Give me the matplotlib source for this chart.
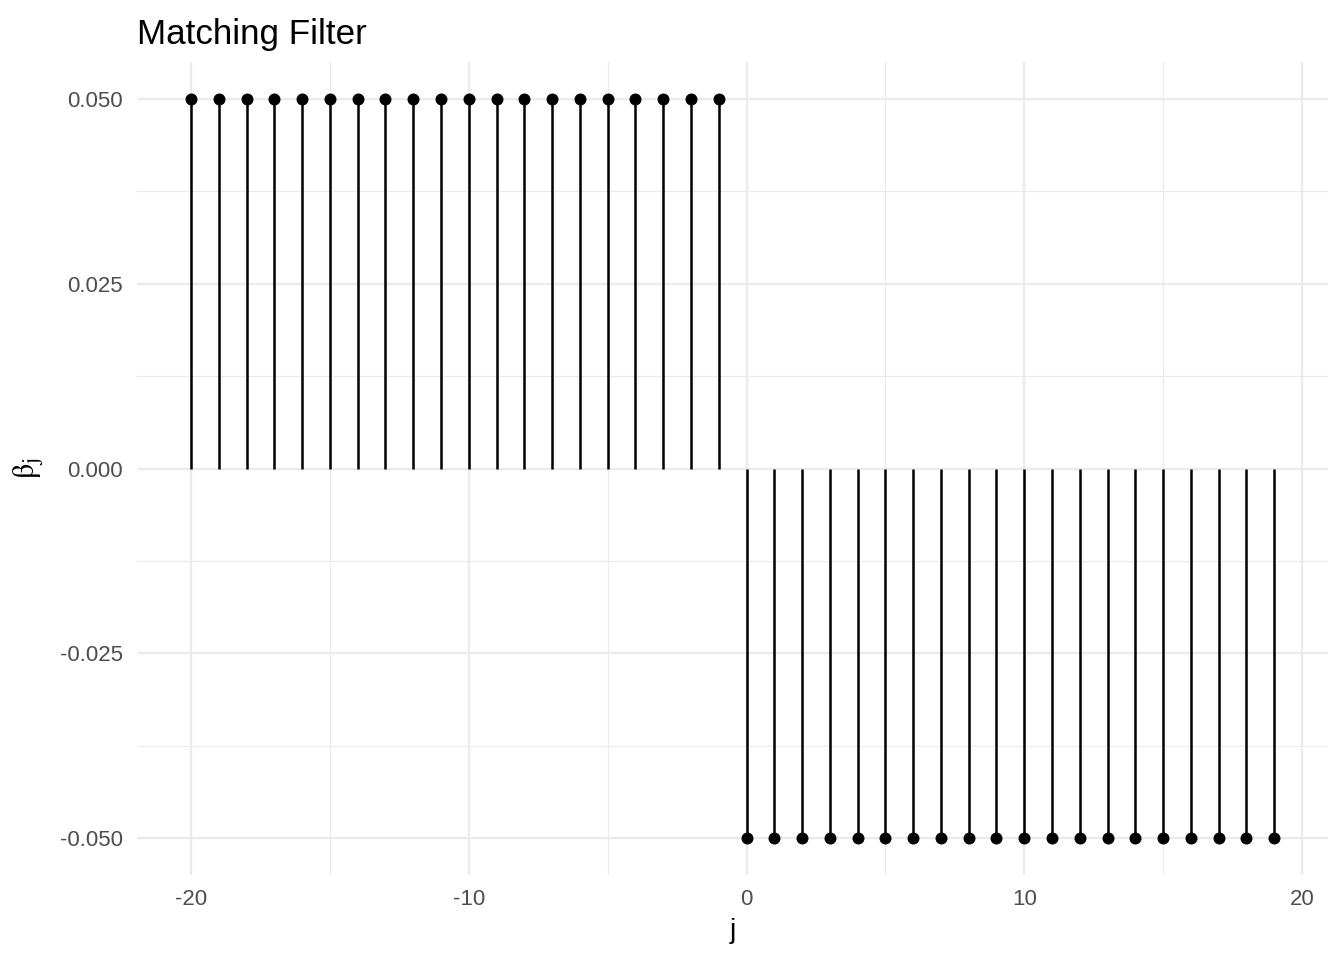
import numpy as np
import matplotlib.pyplot as plt

# filtro: coefficienti beta_j per j = -20..19
j = np.arange(-20, 20)
beta = np.where(j < 0, 0.05, -0.05)

x_ticks = [-20, -10, 0, 10, 20]
x_labels = ["-20", "-10", "0", "10", "20"]
y_ticks = [-0.050, -0.025, 0.000, 0.025, 0.050]
y_labels = ["-0.050", "-0.025", "0.000", "0.025", "0.050"]

plt.rcParams['font.family'] = ['Liberation Sans', 'DejaVu Sans']
plt.rcParams['mathtext.fontset'] = 'stix'

fig = plt.figure(figsize=(13.44, 9.6), dpi=100)
ax = fig.add_axes([0.1018, 0.0885, 0.8866, 0.8469])

# griglia stile ggplot minimal
for x in [-15, -5, 5, 15]:
    ax.axvline(x, color="#EBEBEB", lw=0.9, zorder=0)
for y in [-0.0375, -0.0125, 0.0125, 0.0375]:
    ax.axhline(y, color="#EBEBEB", lw=0.9, zorder=0)
for x in x_ticks:
    ax.axvline(x, color="#EBEBEB", lw=1.7, zorder=0)
for y in y_ticks:
    ax.axhline(y, color="#EBEBEB", lw=1.7, zorder=0)

ax.vlines(j, 0, beta, color="black", lw=1.8, zorder=2)
ax.scatter(j, beta, color="black", s=58, zorder=3)

ax.set_xlim(-21.95, 20.95)
ax.set_ylim(-0.055, 0.055)
ax.set_xticks(x_ticks)
ax.set_xticklabels(x_labels)
ax.set_yticks(y_ticks)
ax.set_yticklabels(y_labels)
ax.tick_params(length=0, labelsize=16, colors="#4D4D4D", pad=10)
for s in ax.spines.values():
    s.set_visible(False)

ax.set_xlabel("j", fontsize=20, color="black", labelpad=6)
ax.set_ylabel(r"$\mathrm{\beta}_\mathrm{j}$", fontsize=22, color="black", labelpad=10)
ax.set_title("Matching Filter", loc="left", fontsize=25.2, pad=13)

fig.savefig("out.png", dpi=100)
